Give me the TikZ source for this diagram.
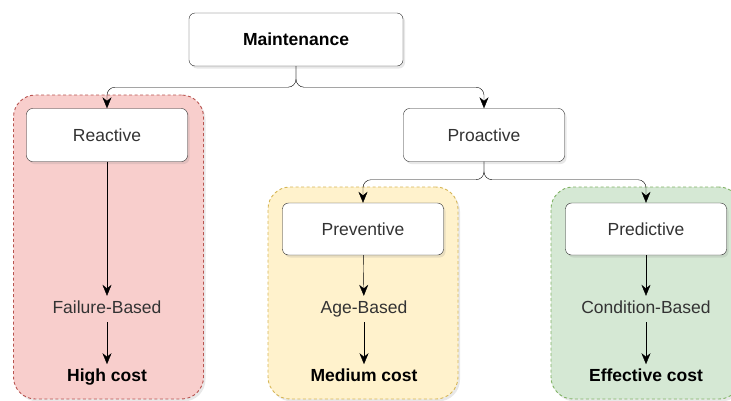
\documentclass[tikz,border=0pt]{standalone}
\usepackage{fontspec}
\setmainfont{Liberation Sans}
\usetikzlibrary{positioning,arrows.meta,shadows}
\definecolor{redfill}{HTML}{F8CECC}
\definecolor{redline}{HTML}{B85450}
\definecolor{yellowfill}{HTML}{FFF2CC}
\definecolor{yellowline}{HTML}{D6B656}
\definecolor{greenfill}{HTML}{D5E8D4}
\definecolor{greenline}{HTML}{82B366}
\definecolor{textgray}{HTML}{333333}
\tikzset{
	line width=1.4pt,% all strokes a bit heavier than default
	soft shadow/.style={drop shadow={opacity=0.18, shadow xshift=2pt, shadow yshift=-2.5pt}}, % light shadow under boxes
	big font/.style={font=\fontsize{17.5}{21}\selectfont},
	bold font/.style={font=\fontsize{17.5}{21}\selectfont\bfseries}
}

\begin{document}
\begin{tikzpicture}[x=1pt, y=-1pt, big font]
            \tikzset{my node/.style = {rectangle, rounded corners=6pt, draw=black!85, fill=white, text=textgray, minimum width=161pt, minimum height=53pt, soft shadow}}
            \tikzset{my group/.style = {rectangle, rounded corners=22pt, line width=0.9pt, dash pattern=on 3pt off 2.5pt, minimum width=190pt, soft shadow}}
            \tikzset{my label/.style = {text=textgray, inner xsep=0pt, inner ysep=5pt, text height=12pt, text depth=4pt}}
            \tikzset{my edge/.style = {-{Stealth[length=11pt,width=9pt]}, rounded corners=8pt}}
            \path[use as bounding box, clip] (0,0) rectangle (731,400);
            % coloured groups behind the boxes
            \node[my group, draw=redline, fill=redfill, minimum height=304pt] (redgrp) at (108.5,247) {};
            \node[my group, draw=yellowline, fill=yellowfill, minimum height=212pt] (yelgrp) at (363,293) {};
            \node[my group, draw=greenline, fill=greenfill, minimum height=212pt] (grngrp) at (646,293) {};
            % boxes
            \node[my node, minimum width=214pt, text=black, bold font] (main) at (296,39.5) {Maintenance};
            \node[my node] (react) at (107,135) {Reactive};
            \node[my node] (pro) at (484,135) {Proactive};
            \node[my node, minimum height=52pt] (prev) at (363,229) {Preventive};
            \node[my node, minimum height=52pt] (pred) at (646,229) {Predictive};
            % labels
            \node[my label] (fail) at (107,309) {Failure-Based};
            \node[my label] (age) at (364,309) {Age-Based};
            \node[my label] (cond) at (646,309) {Condition-Based};
            \node[my label, text=black, bold font] (high) [below=42pt of fail] {High cost};
            \node[my label, text=black, bold font] (med) [below=42pt of age] {Medium cost};
            \node[my label, text=black, bold font] (eff) [below=42pt of cond] {Effective cost};
            % edges
            \draw[my edge] (main.south) -- ++(0,21) -| (react.north);
            \draw[my edge] (main.south) -- ++(0,21) -| (pro.north);
            \draw[my edge] (pro.south) -- ++(0,18) -| (prev.north);
            \draw[my edge] (pro.south) -- ++(0,18) -| (pred.north);
            \draw[my edge] (react) -- (fail);
            \draw[my edge] (prev) -- (age);
            \draw[my edge] (pred) -- (cond);
            \draw[my edge] (fail) -- (high);
            \draw[my edge] (age) -- (med);
            \draw[my edge] (cond) -- (eff);
        \end{tikzpicture}
\end{document}
